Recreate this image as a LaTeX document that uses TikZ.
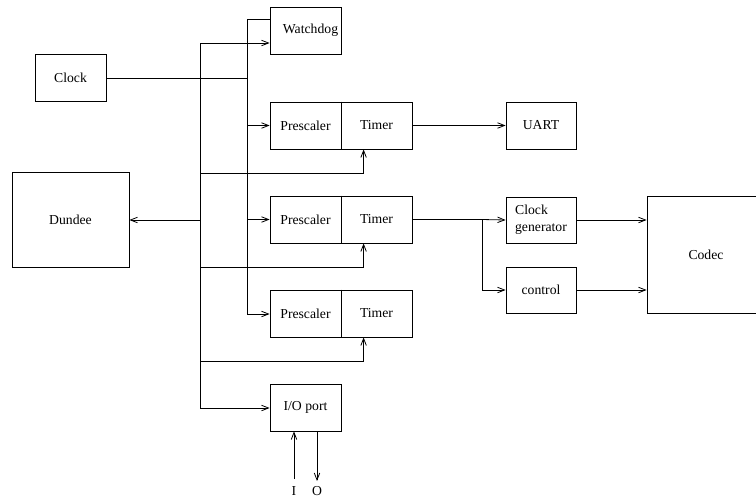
\documentclass[tikz,border=0pt]{standalone}
\usepackage{fontspec}
\setmainfont{Liberation Serif}
\usetikzlibrary{arrows.meta}
\begin{document}
\begin{tikzpicture}[x=1pt,y=-1pt,
  line width=0.8pt,
  font=\fontsize{13.7}{17}\selectfont,
  blk/.style={draw,rectangle,inner sep=0pt,minimum width=71pt,minimum height=47pt},
  arr/.style={-{Straight Barb[length=7pt,width=5.5pt]}},
  divider/.style={line width=1.8pt}]
\clip (0,0) rectangle (756,499);
% boxes
\node[blk] (clock) at (70.5,78) {Clock};
\node[blk] (wd) at (305.5,30.5) {\hspace*{10pt}Watchdog};
\node[blk,minimum width=117pt,minimum height=95pt] (dundee) at (70.5,219.5) {Dundee};
\node[blk] (p1) at (305.5,125.5) {Prescaler};
\node[blk] (t1) at (376.5,125.5) {Timer};
\node[blk] (p2) at (305.5,219.5) {Prescaler};
\node[blk] (t2) at (376.5,219.5) {Timer};
\node[blk] (p3) at (305.5,313.5) {Prescaler};
\node[blk] (t3) at (376.5,313.5) {Timer};
\node[blk] (io) at (305.5,407.5) {I/O port};
\node[blk,minimum width=70pt] (uart) at (541,125.5) {UART};
\node[blk,minimum width=70pt,minimum height=46pt,align=left] (cg) at (541,220) {Clock\\generator};
\node[blk,minimum width=70pt,minimum height=46pt] (ctrl) at (541,290) {control};
\node[blk,minimum width=118pt,minimum height=117pt] (codec) at (706,254.5) {Codec};
\node[inner sep=0pt] (ilab) at (294,491) {I};
\node[inner sep=0pt] (olab) at (317,491) {O};
% dividers
\draw[divider] (p1.north east) -- (p1.south east);
\draw[divider] (p2.north east) -- (p2.south east);
\draw[divider] (p3.north east) -- (p3.south east);
% bus coordinates
\coordinate (b2top) at (247,19);
\coordinate (b2bot) at (247,314);
\coordinate (b1top) at (200,43);
\coordinate (b1bot) at (200,408);
\coordinate (j1) at (200,173);
\coordinate (j2) at (200,267);
\coordinate (j3) at (200,361);
\coordinate (jd) at (200,220);
\coordinate (split) at (482,219.5);
% bus 2 (clock)
\draw (clock.east) -- (clock.east -| b2top);
\draw (b2top -| wd.west) -- (b2top) -- (b2bot);
\draw[arr] (b2top |- p1.west) -- (p1.west);
\draw[arr] (b2top |- p2.west) -- (p2.west);
\draw[arr] (b2bot) -- (b2bot -| p3.west);
% bus 1
\draw[arr] (b1top) -- (b1top -| wd.west);
\draw (b1top) -- (b1bot);
\draw[arr] (b1bot) -- (b1bot -| io.west);
\draw[arr] (jd) -- (jd -| dundee.east);
\draw[arr] (j1) -| ([xshift=23pt]t1.south west);
\draw[arr] (j2) -| ([xshift=23pt]t2.south west);
\draw[arr] (j3) -| ([xshift=23pt]t3.south west);
% right side
\draw[arr] (t1.east) -- (uart.west);
\draw (t2.east) -- (split);
\draw[arr] (split) -- (cg.west);
\draw[arr] (split) |- (ctrl.west);
\draw[arr] (cg.east) -- (cg.east -| codec.west);
\draw[arr] (ctrl.east) -- (ctrl.east -| codec.west);
% I/O
\draw[arr] ([yshift=7pt]ilab.north) -- (ilab.north |- io.south);
\draw[arr] (olab.north |- io.south) -- ([yshift=5pt]olab.north);
\end{tikzpicture}
\end{document}
